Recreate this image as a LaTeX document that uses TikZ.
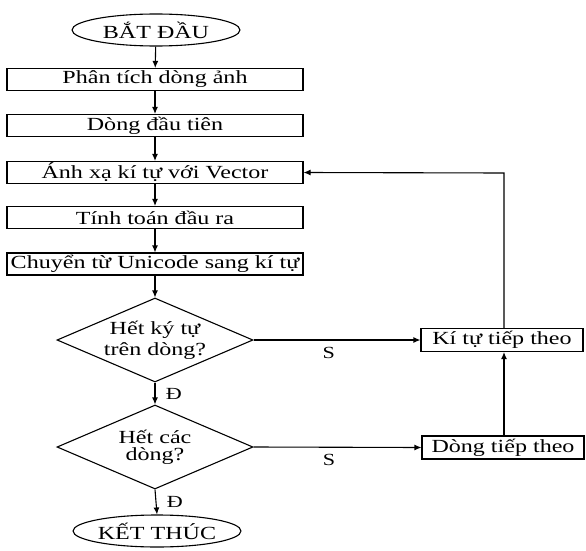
\documentclass[tikz,border=0pt]{standalone}
\usepackage{fontspec}
\setmainfont{Liberation Serif}
\usetikzlibrary{shapes.geometric,arrows.meta}
\newcommand{\sx}[1]{\scalebox{1.3}[1]{#1}}
\tikzset{
  every node/.style={font=\fontsize{18.5}{20}\selectfont},
  procbox/.style={draw, line width=1.1pt, minimum width=296pt, minimum height=22pt, inner sep=0pt},
  sidebox/.style={draw, line width=1.1pt, minimum width=162pt, minimum height=23pt, inner sep=0pt},
  term/.style={draw, ellipse, line width=1.1pt, minimum width=168pt, minimum height=32pt, inner sep=0pt},
  dec/.style={draw, diamond, line width=1.1pt, minimum width=196pt, minimum height=84pt, inner sep=0pt, aspect=2.33},
  flow/.style={line width=1.1pt, -{Latex[length=7pt,width=6pt]}},
  lab/.style={font=\fontsize{17}{19}\selectfont}
}
\begin{document}
\begin{tikzpicture}[x=1pt,y=-1pt]
\useasboundingbox (0,0) rectangle (586,551);
\node[term] (start) at (156,30) {\sx{BẮT ĐẦU}};
\node[procbox] (b1) at (155,79.5) {\sx{Phân tích dòng ảnh}};
\node[procbox] (b2) at (155,125.5) {\sx{Dòng đầu tiên}};
\node[procbox] (b3) at (155,172.5) {\sx{Ánh xạ kí tự với Vector}};
\node[procbox] (b4) at (155,217.5) {\sx{Tính toán đầu ra}};
\node[procbox] (b5) at (155,264) {\sx{Chuyển từ Unicode sang kí tự}};
\node[dec] (d1) at (155,340) {};
\node at (155,340) {\shortstack{\sx{Hết ký tự}\\[1pt]\sx{trên dòng?}}};
\node[dec] (d2) at (155,447) {};
\node at (155,447) {\shortstack{\sx{Hết các}\\[1pt]\sx{dòng?}}};
\node[term] (end) at (157,531) {\sx{KẾT THÚC}};
\node[sidebox] (k) at (502,340) {\sx{Kí tự tiếp theo}};
\node[sidebox] (n) at (503,447.5) {\sx{Dòng tiếp theo}};
\draw[flow] (start) -- (b1);
\draw[flow] (b1) -- (b2);
\draw[flow] (b2) -- (b3);
\draw[flow] (b3) -- (b4);
\draw[flow] (b4) -- (b5);
\draw[flow] (b5) -- (d1.north);
\draw[flow] (d1.south) -- node[lab, right=7pt] {\sx{Đ}} (d2.north);
\draw[flow] (d2.south) -- node[lab, right=7pt] {\sx{Đ}} (end.north);
\draw[flow] (d1.east) -- node[lab, pos=0.45, below=3pt] {\sx{S}} (k.west);
\draw[flow] (d2.east) -- node[lab, pos=0.45, below=3pt] {\sx{S}} (n.west);
\draw[flow] (n.north -| 504,0) -- (k.south -| 504,0);
\draw[flow] (k.north -| 504,0) -- (504,173) -- (b3.east);
\end{tikzpicture}
\end{document}
